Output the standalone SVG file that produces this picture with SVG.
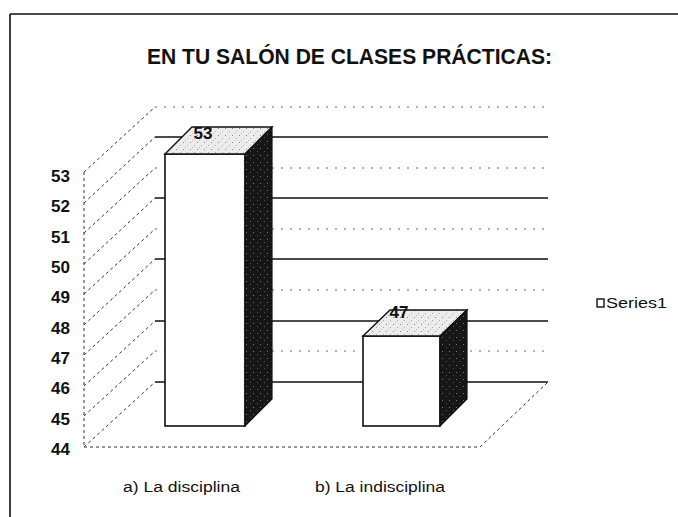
<svg xmlns="http://www.w3.org/2000/svg" width="678" height="517" viewBox="0 0 678 517">
<defs>
<pattern id="dark" width="7" height="7" patternUnits="userSpaceOnUse">
<rect width="7" height="7" fill="#161616"/>
<rect x="1" y="1" width="1" height="1" fill="#777"/>
<rect x="5" y="4" width="1" height="1" fill="#555"/>
</pattern>
<pattern id="light" width="7" height="7" patternUnits="userSpaceOnUse">
<rect width="7" height="7" fill="#ececec"/>
<rect x="1" y="2" width="1" height="1" fill="#888"/>
<rect x="5" y="5" width="1" height="1" fill="#aaa"/>
<rect x="3" y="0" width="1" height="1" fill="#bbb"/>
</pattern>
<style>
.ax{font-family:"Liberation Sans",Arial,sans-serif;font-weight:bold;font-size:17px;fill:#111;text-anchor:end}
.cat{font-family:"Liberation Sans",Arial,sans-serif;font-size:14px;fill:#111}
.val{font-family:"Liberation Sans",Arial,sans-serif;font-weight:bold;font-size:17px;fill:#111;text-anchor:middle}
.solid{stroke:#111;stroke-width:1.6;fill:none}
.dot{stroke:#666;stroke-width:1;stroke-dasharray:2 7;fill:none}
.wall{stroke:#333;stroke-width:1;stroke-dasharray:3 3;fill:none}
.front{fill:#fff;stroke:#111;stroke-width:1.6}
.top{fill:url(#light);stroke:#111;stroke-width:1.4}
.side{fill:url(#dark);stroke:#111;stroke-width:1.2}
</style>
</defs>
<rect width="678" height="517" fill="#fff"/>
<g id="frame" stroke="#111" stroke-width="1.6" fill="none">
<path d="M10 14 H678 M10 14 V517"/>
</g>
<text id="title" x="147" y="64" textLength="405" lengthAdjust="spacingAndGlyphs" font-family="Liberation Sans,Arial,sans-serif" font-weight="bold" font-size="22.5" fill="#111">EN TU SALÓN DE CLASES PRÁCTICAS:</text>
<g id="grid">
<path class="dot" d="M155 107 H548 M155 168 H548 M155 229 H548 M155 290 H548 M155 351 H548"/>
<path class="solid" d="M155 137 H548 M155 198 H548 M155 259 H548 M155 321 H548 M155 382 H548"/>
<path class="wall" d="M84 172 V447 M84 172 L155 107 M84 203 L155 137 M84 233 L155 168 M84 264 L155 198 M84 294 L155 229 M84 325 L155 259 M84 355 L155 290 M84 386 L155 321 M84 416 L155 351 M84 447 L155 382"/>
<path class="wall" d="M84 447 H480 L548 382"/>
</g>
<g id="axis-labels">
<text class="ax" x="70" y="182">53</text>
<text class="ax" x="70" y="212">52</text>
<text class="ax" x="70" y="243">51</text>
<text class="ax" x="70" y="273">50</text>
<text class="ax" x="70" y="303">49</text>
<text class="ax" x="70" y="334">48</text>
<text class="ax" x="70" y="364">47</text>
<text class="ax" x="70" y="394">46</text>
<text class="ax" x="70" y="425">45</text>
<text class="ax" x="70" y="455">44</text>
</g>
<g id="bar-a">
<rect class="front" x="165" y="154" width="80" height="272"/>
<polygon class="top" points="165,154 192,127 272,127 245,154"/>
<polygon class="side" points="245,154 272,127 272,399 245,426"/>
<text class="val" x="203" y="139">53</text>
</g>
<g id="bar-b">
<rect class="front" x="363" y="336" width="77" height="90"/>
<polygon class="top" points="363,336 390,310 467,310 440,336"/>
<polygon class="side" points="440,336 467,310 467,399 440,426"/>
<text class="val" x="399" y="318">47</text>
</g>
<g id="categories">
<text class="cat" x="123" y="492" textLength="117" lengthAdjust="spacingAndGlyphs">a) La disciplina</text>
<text class="cat" x="315" y="492" textLength="130" lengthAdjust="spacingAndGlyphs">b) La indisciplina</text>
</g>
<g id="legend">
<rect x="597" y="299" width="7" height="8" fill="#fff" stroke="#111" stroke-width="1.4"/>
<text class="cat" x="606" y="308" textLength="61" lengthAdjust="spacingAndGlyphs">Series1</text>
</g>
</svg>
